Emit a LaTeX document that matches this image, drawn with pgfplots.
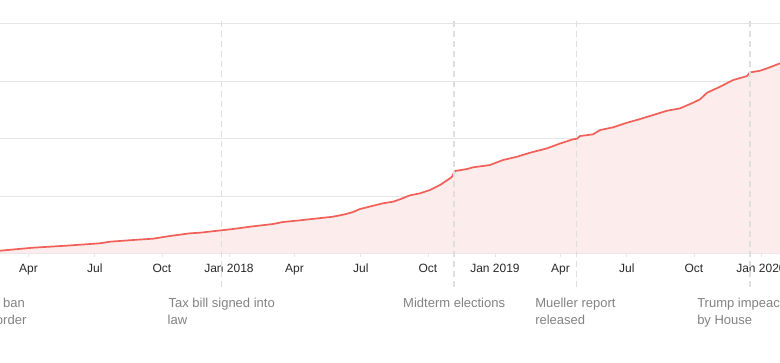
\documentclass[border=0pt]{standalone}
\usepackage{fontspec}
\setmainfont{Liberation Sans}
\usepackage{pgfplots}
\pgfplotsset{compat=1.18}
\definecolor{linered}{RGB}{240,96,88}
\definecolor{fillpink}{RGB}{252,236,235}
\definecolor{gridgray}{RGB}{230,230,230}
\definecolor{dashgray}{RGB}{222,222,222}
\definecolor{anngray}{RGB}{130,130,130}
\definecolor{ticktext}{RGB}{40,40,40}
\begin{document}
\begin{tikzpicture}[x=1pt,y=1pt]
\begin{axis}[
  at={(0pt,109.5pt)}, anchor=south west,
  scale only axis, width=780pt, height=229.5pt,
  xmin=50.8, xmax=1121.1, ymin=0, ymax=20000,
  axis line style={draw=none},
  scaled y ticks=false,
  ytick={0,5000,10000,15000,20000}, yticklabels={},
  ymajorgrids, grid style={gridgray, line width=1pt},
  major y tick style={draw=none},
  xtick={90,181,273,365,455,546,638,730,820,911,1003,1095},
  xticklabels={Apr,Jul,Oct,Jan 2018,Apr,Jul,Oct,Jan 2019,Apr,Jul,Oct,Jan 2020},
  xtick pos=bottom, tick align=outside,
  major x tick style={gridgray, line width=0.8pt},
  major tick length=4pt,
  xticklabel style={font=\fontsize{12}{14}\selectfont, text=ticktext, yshift=-3pt},
  clip=false,
]
\addplot[fill=fillpink, draw=none] table {
x y
20 60
50.8 244
96 505
141.4 679
188 889
201.7 1028
233.3 1176
260.7 1289
284 1524
311.5 1760
325.2 1812
370.5 2134
393.8 2334
425.4 2570
439.1 2744
462.4 2892
507.7 3206
524.2 3415
535.2 3615
544.8 3876
576.3 4373
590.1 4512
599.6 4721
613.4 5070
627.1 5244
640.8 5531
654.5 5967
668.3 6551
671 6690
675.1 7187
691.6 7361
699.8 7509
723.1 7709
732.7 7944
741 8145
760.2 8432
778 8780
801.4 9164
819.2 9582
837 9948
842.5 10000
846.6 10235
864.5 10383
874.1 10758
892 10993
911.1 11394
929 11716
946.8 12064
966 12439
983.9 12648
1001.7 13136
1011.3 13432
1020.9 14007
1038.7 14530
1056.6 15113
1075.8 15462
1079.9 15784
1093.6 15923
1103.2 16132
1121.1 16568
} \closedcycle;
\addplot[linered, line width=1.7pt, line join=round] table {
x y
20 60
50.8 244
96 505
141.4 679
188 889
201.7 1028
233.3 1176
260.7 1289
284 1524
311.5 1760
325.2 1812
370.5 2134
393.8 2334
425.4 2570
439.1 2744
462.4 2892
507.7 3206
524.2 3415
535.2 3615
544.8 3876
576.3 4373
590.1 4512
599.6 4721
613.4 5070
627.1 5244
640.8 5531
654.5 5967
668.3 6551
671 6690
675.1 7187
691.6 7361
699.8 7509
723.1 7709
732.7 7944
741 8145
760.2 8432
778 8780
801.4 9164
819.2 9582
837 9948
842.5 10000
846.6 10235
864.5 10383
874.1 10758
892 10993
911.1 11394
929 11716
946.8 12064
966 12439
983.9 12648
1001.7 13136
1011.3 13432
1020.9 14007
1038.7 14530
1056.6 15113
1075.8 15462
1079.9 15784
1093.6 15923
1103.2 16132
1121.1 16568
};
\foreach \d in {26,355,674,842,1080}{
  \edef\temp{\noexpand\draw[dashgray, line width=1.4pt, dash pattern=on 6pt off 4pt]
    (axis cs:\d,20300) -- ([yshift=-33.5pt]axis cs:\d,0);}
  \temp
}
\tikzset{ann/.style={anchor=base, text=anngray, font=\fontsize{13}{17}\selectfont, inner sep=0pt}}
\node[ann] at ([yshift=-54.5pt]axis cs:26,0) {First travel ban};
\node[ann] at ([yshift=-71.5pt]axis cs:26,0) {executive order};
\node[ann] at ([yshift=-54.5pt]axis cs:355,0) {Tax bill signed into};
\node[ann, anchor=base west] at ([yshift=-71.5pt, xshift=-54.2pt]axis cs:355,0) {law};
\node[ann] at ([yshift=-54.5pt]axis cs:674,0) {Midterm elections};
\node[ann, anchor=base west] at ([yshift=-54.5pt, xshift=-41.5pt]axis cs:842,0) {Mueller report};
\node[ann, anchor=base west] at ([yshift=-71.5pt, xshift=-41.5pt]axis cs:842,0) {released};
\node[ann, anchor=base west] at ([yshift=-54.5pt, xshift=-53pt]axis cs:1080,0) {Trump impeached};
\node[ann, anchor=base west] at ([yshift=-71.5pt, xshift=-53pt]axis cs:1080,0) {by House};
\end{axis}
\pgfresetboundingbox
\useasboundingbox (0pt,0pt) rectangle (780pt,363pt);
\end{tikzpicture}
\end{document}
